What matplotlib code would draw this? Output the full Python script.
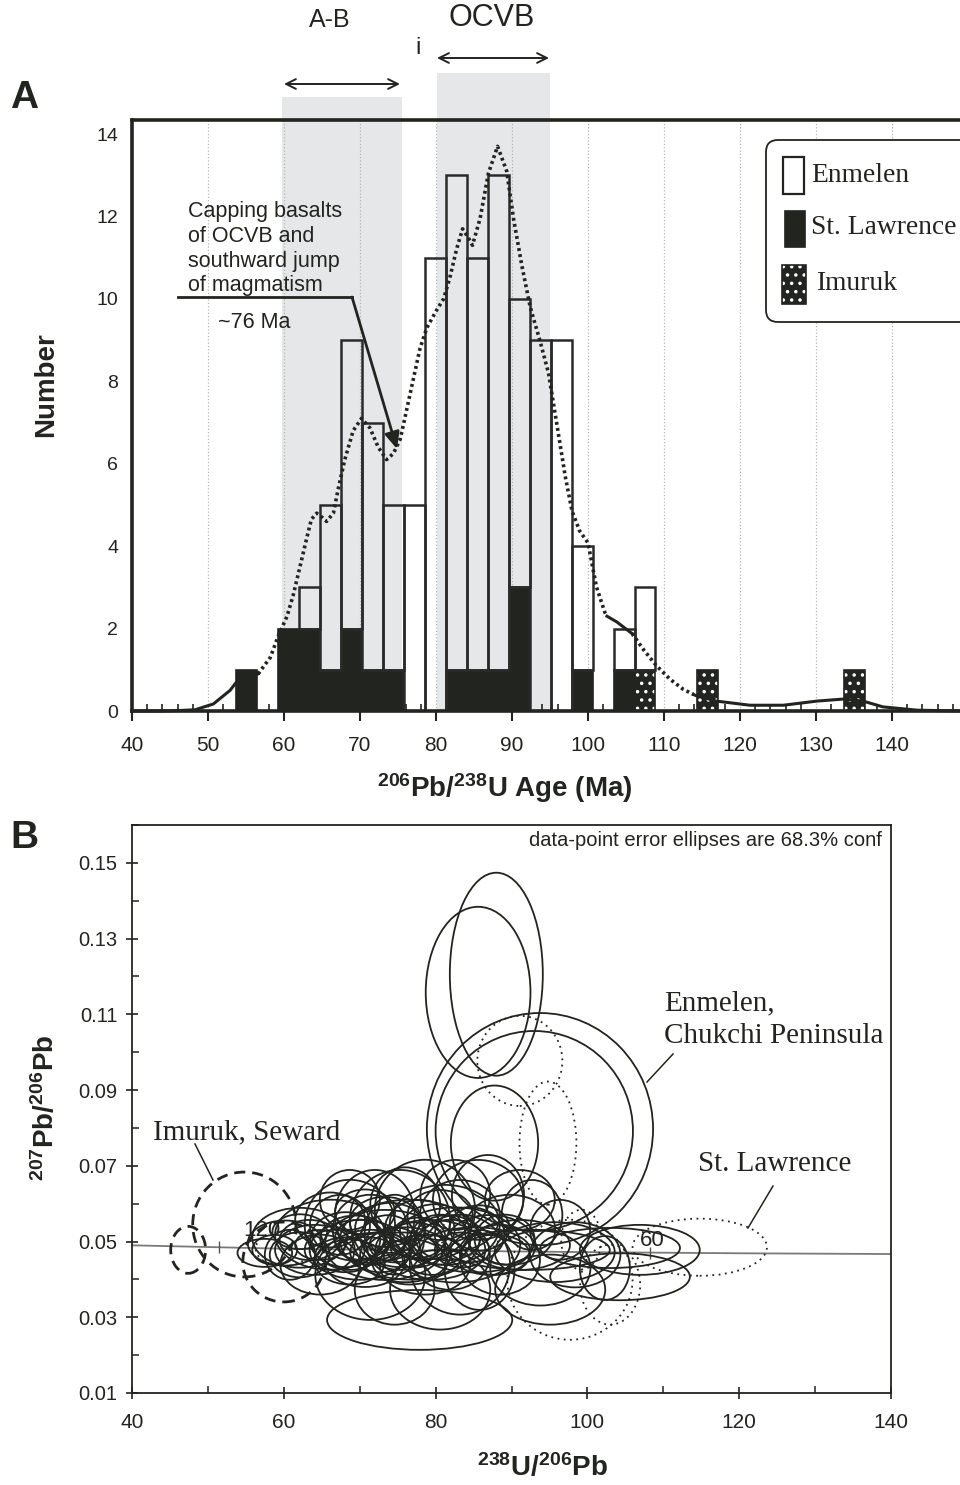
import numpy as np
import matplotlib
matplotlib.use("Agg")
import matplotlib.pyplot as plt
from matplotlib.patches import Ellipse, Rectangle, FancyBboxPatch
from matplotlib.lines import Line2D
from matplotlib.ticker import MultipleLocator
from matplotlib.transforms import IdentityTransform
from matplotlib import font_manager

W, H = 960, 1485

# ---- Panel A: age histogram ----
bin_start = 53.68
bin_width = 2.76
st_lawrence = [1, 0, 2, 2, 1, 2, 1, 1, 0, 0, 1, 1, 1, 3, 0, 0, 1, 0, 1, 0,
               0, 0, 0, 0, 0, 0, 0, 0, 0, 0]
imuruk = [0, 0, 0, 0, 0, 0, 0, 0, 0, 0, 0, 0, 0, 0, 0, 0, 0, 0, 0, 1,
          0, 0, 1, 0, 0, 0, 0, 0, 0, 1]
enmelen = [0, 0, 0, 1, 4, 7, 6, 4, 5, 11, 12, 10, 12, 7, 9, 9, 3, 0, 1, 2,
           0, 0, 0, 0, 0, 0, 0, 0, 0, 0]

# probability density curve (Ma, relative count)
curve_x = [40, 44, 46, 48.3, 50.7, 52.9, 53.7, 55, 56.6, 58.2, 59.2, 60.4, 61.2,
           62.1, 63.0, 63.6, 64.3, 65.0, 65.6, 66.5, 67.1, 68.0, 69.1, 70.2,
           71.3, 72.4, 73.5, 74.4, 75.3, 76.6, 77.9, 78.8, 80.0, 81.0, 81.8,
           82.7, 83.5, 84.2, 84.8, 85.8, 86.9, 88.1, 89.3, 90.2, 91.3, 92.4,
           93.7, 94.8, 95.9, 97.0, 97.9, 98.9, 100.0, 101.1, 102.2, 102.5, 103.8,
           105.5, 105.8, 107.3, 109.0, 110.8, 112.5, 113.9, 114.1, 116.9, 121.3,
           125.7, 130.1, 133.6, 136.2, 138.8, 143.3, 149]
curve_y = [0.0, 0.0, 0.01, 0.03, 0.17, 0.5, 0.69, 0.8, 0.9, 1.3, 1.8, 2.3, 2.8,
           3.5, 4.2, 4.65, 4.8, 4.7, 4.6, 4.8, 5.36, 6.1, 6.8, 7.1,
           6.87, 6.4, 6.1, 6.25, 6.6, 7.7, 8.8, 9.3, 9.7, 10.0, 10.5,
           11.2, 11.7, 11.5, 11.3, 11.95, 13.05, 13.7, 13.1, 11.95, 10.8, 9.8,
           8.97, 8.2, 6.96, 5.7, 4.85, 4.37, 4.08, 3.02, 2.4, 2.3, 2.16,
           1.92, 1.88, 1.49, 1.1, 0.77, 0.53, 0.4, 0.38, 0.24, 0.14,
           0.14, 0.24, 0.29, 0.24, 0.1, 0.02, 0.0]
# line style changes along the curve
dotted_spans = [(56.6, 102.5), (105.8, 113.9)]
solid_spans = [(40, 56.6), (102.5, 105.8), (113.9, 150)]

# shaded age intervals
ab_span = (59.7, 75.5)
ocvb_span = (80.1, 95.0)

# ---- Panel B: Tera-Wasserburg ellipses (x, y, width, height) ----
enm_x = [88.0, 85.6, 93.75, 93.0, 87.76, 86.9, 92.7,
         57.5, 60.2, 62.1, 64.1, 66.1, 68.1, 68.7, 70.0, 71.4, 72.0, 73.3, 74.6,
         75.3, 76.0, 76.6, 77.9, 78.6, 79.3, 80.6, 81.2, 81.9, 82.6, 83.2, 84.5,
         85.2, 85.8, 87.2, 88.5, 89.1, 91.1, 92.4, 93.8, 95.7, 96.4, 98.4, 77.9,
         71.4, 80.6, 64.8, 74.6, 95.1, 103.0, 104.3, 106.9, 102.3, 85.6, 91.1,
         82.6, 68.7, 60.8, 63.4, 66.7, 69.4, 72.7, 74.0, 77.3, 79.9, 70.7, 67.4,
         76.0, 83.2, 78.6, 62.1, 74.6, 89.8,
         62.1, 64.8, 68.1, 70.0, 71.6, 73.7, 75.6, 77.7, 79.5, 81.6, 83.5, 66.1,
         73.3, 68.7, 76.6, 58.8, 85.8, 80.6, 70.7, 87.8]
enm_y = [0.1206, 0.1158, 0.0797, 0.0792, 0.0760, 0.0623, 0.0570,
         0.0470, 0.0496, 0.0510, 0.0478, 0.0518, 0.0505, 0.0544, 0.0478, 0.0531,
         0.0570, 0.0491, 0.0518, 0.0557, 0.0465, 0.0505, 0.0531, 0.0584, 0.0478,
         0.0505, 0.0544, 0.0465, 0.0491, 0.0439, 0.0518, 0.0478, 0.0425, 0.0491,
         0.0452, 0.0505, 0.0491, 0.0478, 0.0430, 0.0472, 0.0531, 0.0465, 0.0293,
         0.0412, 0.0373, 0.0439, 0.0373, 0.0373, 0.0483, 0.0407, 0.0478, 0.0430,
         0.0610, 0.0610, 0.0623, 0.0610, 0.0465, 0.0504, 0.0478, 0.0509, 0.0472,
         0.0536, 0.0491, 0.0526, 0.0446, 0.0544, 0.0597, 0.0570, 0.0439, 0.0465,
         0.0491, 0.0531,
         0.0526, 0.0491, 0.0465, 0.0505, 0.0483, 0.0510, 0.0478, 0.0510, 0.0465,
         0.0510, 0.0478, 0.0557, 0.0552, 0.0446, 0.0446, 0.0478, 0.0536, 0.0570,
         0.0578, 0.0465]
enm_w = [12.25, 13.8, 29.8, 26.0, 11.5, 9.5, 8.0,
         7.2, 9.9, 12.5, 10.5, 14.5, 9.2, 11.9, 13.2, 9.9, 10.5, 15.8, 7.9, 13.2,
         11.9, 18.4, 9.2, 13.2, 14.5, 7.9, 14.5, 10.5, 17.1, 13.2, 9.2, 14.5, 9.2,
         11.9, 10.5, 7.9, 13.2, 21.1, 13.2, 15.8, 7.9, 11.9, 24.4, 14.5, 13.2,
         10.5, 10.5, 14.5, 18.4, 18.4, 15.8, 6.6, 11.9, 9.2, 9.2, 7.9, 6.6, 7.9,
         7.9, 9.2, 7.9, 9.2, 7.9, 9.2, 10.5, 7.9, 9.2, 10.5, 11.9, 7.9, 6.6, 11.9,
         7.2, 6.6, 7.9, 6.6, 8.6, 7.2, 9.2, 7.2, 7.9, 8.6, 7.2, 9.2,
         9.2, 9.2, 9.9, 5.9, 7.9, 8.6, 7.9, 9.2]
enm_h = [0.0536, 0.0452, 0.0613, 0.0528, 0.0304, 0.0211, 0.0185,
         0.0074, 0.0119, 0.0158, 0.0132, 0.0185, 0.0145, 0.0238, 0.0158, 0.0185,
         0.0238, 0.0185, 0.0211, 0.0264, 0.0145, 0.0211, 0.0158, 0.0264, 0.0158,
         0.0132, 0.0211, 0.0185, 0.0198, 0.0264, 0.0145, 0.0119, 0.0211, 0.0158,
         0.0185, 0.0132, 0.0132, 0.0106, 0.0198, 0.0158, 0.0158, 0.0172, 0.0158,
         0.0238, 0.0211, 0.0158, 0.0185, 0.0185, 0.0106, 0.0124, 0.0132, 0.0169,
         0.0211, 0.0158, 0.0185, 0.0158, 0.0132, 0.0106, 0.0106, 0.0119, 0.0106,
         0.0132, 0.0119, 0.0145, 0.0132, 0.0158, 0.0198, 0.0185, 0.0158, 0.0119,
         0.0092, 0.0185,
         0.0092, 0.0079, 0.0092, 0.0106, 0.0079, 0.0119, 0.0092, 0.0106, 0.0106,
         0.0119, 0.0092, 0.0145, 0.0132, 0.0119, 0.0119, 0.0079, 0.0119, 0.0132,
         0.0119, 0.0106]

stl_x = [94.8, 91.1, 114.8, 97.7, 99.2, 103.0, 59.9, 84.5]
stl_y = [0.0760, 0.0977, 0.0485, 0.0399, 0.0505, 0.0386, 0.0481, 0.0518]
stl_w = [7.5, 11.2, 17.7, 16.5, 5.3, 7.9, 7.2, 7.9]
stl_h = [0.0325, 0.0238, 0.0151, 0.0317, 0.0158, 0.0211, 0.0092, 0.0106]

imu_x = [54.8, 47.4, 60.0]
imu_y = [0.0545, 0.0478, 0.0446]
imu_w = [13.6, 4.6, 10.8]
imu_h = [0.0277, 0.0124, 0.0211]

# concordia
conc_x = [40, 60, 80, 100, 120, 140]
conc_y = [0.0490, 0.0481, 0.0476, 0.0472, 0.0469, 0.0467]
conc_tick_x = [51.5, 108.3]
conc_tick_y = [0.0486, 0.0471]

# ---- fonts ----
names = {f.name for f in font_manager.fontManager.ttflist}
narrow = 'Liberation Sans Narrow' if 'Liberation Sans Narrow' in names else 'Liberation Sans'
plt.rcParams['font.family'] = ['Liberation Sans', 'DejaVu Sans']
plt.rcParams['mathtext.fontset'] = 'custom'
plt.rcParams['mathtext.rm'] = 'Liberation Sans'
plt.rcParams['mathtext.bf'] = 'Liberation Sans:bold'
plt.rcParams['mathtext.it'] = 'Liberation Sans:italic'
plt.rcParams['hatch.linewidth'] = 1.3
SERIF = 'Liberation Serif'
DARK = '#222420'
DOTS = '..'


def fx(px):
    return px / W


def fy(py):
    return 1 - py / H


fig = plt.figure(figsize=(W / 100, H / 100), dpi=100)

# ================= Panel A =================
axA = fig.add_axes([fx(132), fy(711), (968 - 132) / W, (711 - 120) / H])
axA.set_xlim(40, 150)
axA.set_ylim(0, 14.34)

for span, top in [(ab_span, 1.039), (ocvb_span, 1.080)]:
    axA.axvspan(span[0], span[1], ymin=0, ymax=top, color='#e6e7e9',
                lw=0, zorder=0, clip_on=False)

axA.set_axisbelow(True)
axA.xaxis.grid(True, which='major', linestyle=':', color='#b5b5b5', lw=0.9)

lefts = bin_start + bin_width * np.arange(len(enmelen))
stl = np.array(st_lawrence, float)
imu = np.array(imuruk, float)
enm = np.array(enmelen, float)

m = stl > 0
axA.bar(lefts[m], stl[m], width=bin_width, align='edge', color=DARK,
        edgecolor=DARK, lw=1.2, zorder=2)
m = imu > 0
axA.bar(lefts[m], imu[m], bottom=stl[m], width=bin_width, align='edge',
        facecolor=DARK, edgecolor='white', hatch=DOTS, lw=0, zorder=2)
axA.bar(lefts[m], imu[m], bottom=stl[m], width=bin_width, align='edge',
        facecolor='none', edgecolor=DARK, lw=1.2, zorder=2.1)
m = enm > 0
axA.bar(lefts[m], enm[m], bottom=(stl + imu)[m], width=bin_width, align='edge',
        facecolor='none', edgecolor='#2a2a2a', lw=1.8, zorder=2.2)

cx = np.array(curve_x)
cy = np.array(curve_y)
for a, b in solid_spans:
    s = (cx >= a) & (cx <= b)
    axA.plot(cx[s], cy[s], color=DARK, lw=2.2, zorder=4, clip_on=False)
for a, b in dotted_spans:
    s = (cx >= a) & (cx <= b)
    axA.plot(cx[s], cy[s], color=DARK, lw=2.6, linestyle=(0, (0.8, 0.9)),
             zorder=4)

for side in ['top', 'left', 'bottom', 'right']:
    axA.spines[side].set_linewidth(2.6)
    axA.spines[side].set_color(DARK)

axA.set_xticks(range(40, 141, 10))
axA.xaxis.set_minor_locator(MultipleLocator(2))
axA.set_yticks(range(0, 15, 2))
axA.tick_params(axis='x', which='major', direction='out', length=7, width=1.5,
                labelsize=15, pad=11, colors=DARK)
axA.tick_params(axis='x', which='minor', direction='in', length=5, width=1.2,
                colors=DARK)
axA.tick_params(axis='y', which='major', length=0, labelsize=14, pad=10,
                colors=DARK)
for t in axA.get_xticklabels():
    t.set_fontfamily(narrow)

# legend box
lg = FancyBboxPatch((766, H - 322), 214, 182, boxstyle='round,pad=0,rounding_size=12',
                    transform=IdentityTransform(), facecolor='white',
                    edgecolor=DARK, lw=1.3, zorder=10)
fig.add_artist(lg)
fig.add_artist(Rectangle((783, H - 194), 21, 37, transform=IdentityTransform(),
                         facecolor='white', edgecolor=DARK, lw=1.6, zorder=11))
fig.add_artist(Rectangle((785, H - 247), 20, 36, transform=IdentityTransform(),
                         facecolor=DARK, edgecolor=DARK, lw=1.2, zorder=11))
fig.add_artist(Rectangle((782, H - 304), 24, 39, transform=IdentityTransform(),
                         facecolor=DARK, edgecolor='white', hatch=DOTS, lw=0,
                         zorder=11))
fig.add_artist(Rectangle((782, H - 304), 24, 39, transform=IdentityTransform(),
                         facecolor='none', edgecolor=DARK, lw=1.2, zorder=11.1))
for txt, x, y in [('Enmelen', 811, 176), ('St. Lawrence', 811, 228), ('Imuruk', 816, 284)]:
    fig.text(fx(x), fy(y), txt, fontfamily=SERIF, fontsize=19.8, color=DARK,
             ha='left', va='center', zorder=12)

# interval arrows and labels above the panel
for x0, x1, y in [(284, 400, 84), (437, 549, 58)]:
    axA.annotate('', xy=(x0, H - y), xytext=(x1, H - y), xycoords='figure pixels',
                 arrowprops=dict(arrowstyle='<->,head_length=0.7,head_width=0.35',
                                 lw=1.4, color=DARK, shrinkA=0, shrinkB=0))
fig.text(fx(330), fy(20), 'A-B', fontsize=18, ha='center', va='center',
         fontfamily=narrow, color=DARK)
fig.text(fx(418), fy(48), 'i', fontsize=17, ha='center', va='center',
         fontfamily=narrow, color=DARK)
fig.text(fx(492), fy(18), 'OCVB', fontsize=22, ha='center', va='center',
         fontfamily=narrow, color=DARK)

# capping basalts callout
for i, line in enumerate(['Capping basalts', 'of OCVB and', 'southward jump',
                          'of magmatism']):
    fig.text(fx(188), fy(211 + 25 * i), line, fontsize=15.5, ha='left',
             va='center', color=DARK)
fig.text(fx(218), fy(323), '~76 Ma', fontsize=15.5, ha='left', va='center',
         color=DARK)
fig.add_artist(Line2D([fx(178), fx(352)], [fy(297), fy(297)],
                      transform=fig.transFigure, color=DARK, lw=2))
axA.annotate('', xy=(397, H - 449), xytext=(352, H - 297), xycoords='figure pixels',
             arrowprops=dict(arrowstyle='-|>,head_length=1.0,head_width=0.45',
                             lw=2, color=DARK, shrinkA=0, shrinkB=0))

fig.text(fx(24), fy(98), 'A', fontsize=28, fontweight='bold', ha='center',
         va='center', color=DARK)
fig.text(fx(46), fy(385), 'Number', fontsize=20, fontweight='bold',
         rotation=90, ha='center', va='center', color=DARK)
fig.text(fx(505), fy(788), r'$\mathbf{^{206}Pb/^{238}U\ Age\ (Ma)}$',
         fontsize=20, ha='center', va='center', color=DARK)

# ================= Panel B =================
axB = fig.add_axes([fx(132), fy(1393), (891 - 132) / W, (1393 - 825) / H])
axB.set_xlim(40, 140)
axB.set_ylim(0.01, 0.16)

axB.plot(conc_x, conc_y, color='#7a7a7a', lw=1.3, zorder=1)
axB.plot(conc_tick_x, conc_tick_y, linestyle='none', marker='|', ms=9,
         mew=1, color='#555555', zorder=1)

for x, y, w, h in zip(enm_x, enm_y, enm_w, enm_h):
    axB.add_patch(Ellipse((x, y), w, h, fill=False, edgecolor=DARK, lw=1.3,
                          zorder=2))
for x, y, w, h in zip(stl_x, stl_y, stl_w, stl_h):
    axB.add_patch(Ellipse((x, y), w, h, fill=False, edgecolor=DARK, lw=1.3,
                          linestyle=(0, (1, 2.5)), zorder=2))
for x, y, w, h in zip(imu_x, imu_y, imu_w, imu_h):
    axB.add_patch(Ellipse((x, y), w, h, fill=False, edgecolor=DARK, lw=2.0,
                          linestyle=(0, (4, 2.5)), zorder=2))

for s in axB.spines.values():
    s.set_linewidth(1.3)
    s.set_color(DARK)
axB.set_xticks(range(40, 141, 20))
axB.xaxis.set_minor_locator(MultipleLocator(10))
axB.set_yticks([0.01, 0.03, 0.05, 0.07, 0.09, 0.11, 0.13, 0.15])
axB.set_yticklabels(['0.01', '0.03', '0.05', '0.07', '0.09', '0.11', '0.13', '0.15'])
axB.yaxis.set_minor_locator(MultipleLocator(0.01))
axB.tick_params(axis='x', which='major', direction='inout', length=9, width=1.2,
                labelsize=15, pad=10, colors=DARK)
axB.tick_params(axis='x', which='minor', direction='in', length=5, width=1.1,
                colors=DARK)
axB.tick_params(axis='y', which='major', direction='inout', length=9, width=1.2,
                labelsize=14.5, pad=6, colors=DARK)
axB.tick_params(axis='y', which='minor', direction='in', length=5, width=1.1,
                colors=DARK)
for t in axB.get_xticklabels():
    t.set_fontfamily(narrow)

fig.text(fx(882), fy(840), 'data-point error ellipses are 68.3% conf',
         fontsize=14.5, ha='right', va='center', color=DARK)
fig.text(fx(664), fy(1003), 'Enmelen,', fontfamily=SERIF, fontsize=21,
         ha='left', va='center', color=DARK)
fig.text(fx(664), fy(1036), 'Chukchi Peninsula', fontfamily=SERIF, fontsize=21,
         ha='left', va='center', color=DARK)
fig.text(fx(153), fy(1132), 'Imuruk, Seward', fontfamily=SERIF, fontsize=21,
         ha='left', va='center', color=DARK)
fig.text(fx(698), fy(1164), 'St. Lawrence', fontfamily=SERIF, fontsize=21,
         ha='left', va='center', color=DARK)
fig.text(fx(262), fy(1230), '120', fontsize=16, ha='center', va='center',
         color=DARK, fontfamily=narrow)
fig.text(fx(652), fy(1240), '60', fontsize=16, ha='center', va='center',
         color=DARK, fontfamily=narrow)
for (x0, y0), (x1, y1) in [((673, 1054), (647, 1082)),
                           ((195, 1144), (213, 1180)),
                           ((773, 1186), (748, 1228))]:
    fig.add_artist(Line2D([fx(x0), fx(x1)], [fy(y0), fy(y1)],
                          transform=fig.transFigure, color=DARK, lw=1.1))

fig.text(fx(24), fy(838), 'B', fontsize=28, fontweight='bold', ha='center',
         va='center', color=DARK)
fig.text(fx(46), fy(1108), r'$\mathbf{^{207}Pb/^{206}Pb}$', fontsize=20,
         rotation=90, ha='center', va='center', color=DARK)
fig.text(fx(542), fy(1468), r'$\mathbf{^{238}U/^{206}Pb}$', fontsize=20,
         ha='center', va='center', color=DARK)

fig.savefig('out.png', dpi=100)
